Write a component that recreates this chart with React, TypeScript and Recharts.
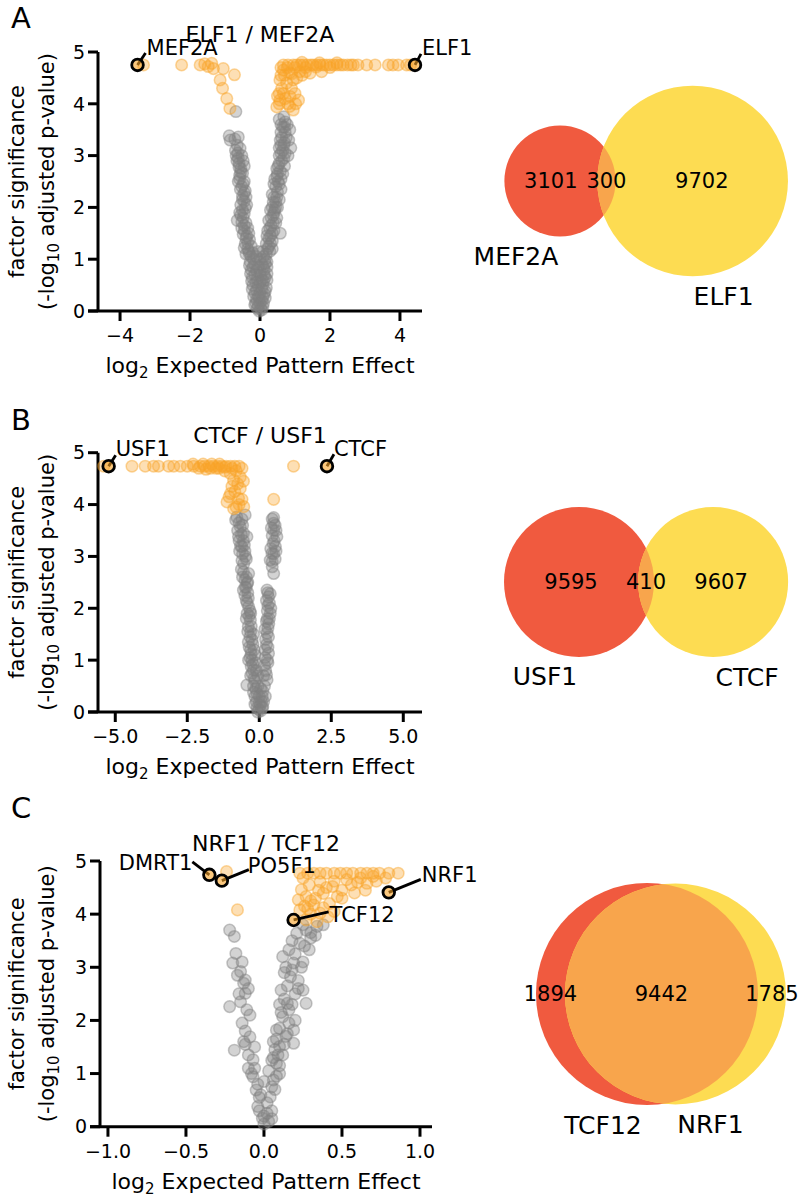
import React from "react";
import { ScatterChart, Scatter, XAxis, YAxis, ReferenceLine } from "recharts";

const FONT = "'DejaVu Sans', 'Liberation Sans', sans-serif";
const GREY = "#808080";
const ORANGE = "#F9A428";
const VENN_RED = "#F05A3F";
const VENN_YELLOW = "#FDDC52";
const VENN_BOTH = "#F8A54C";

// ---------- shared ----------
const yTicks = [0, 1, 2, 3, 4, 5];

// ---------- panel A : ELF1 / MEF2A ----------
const aTitle = "ELF1 / MEF2A";
const aTicks = [-4, -2, 0, 2, 4];
const aGrey: [number, number][] = [
    [-0.88, 3.38], [-0.62, 3.36], [-0.57, 3.14], [-0.68, 3.0], [-0.6, 2.85], [-0.55, 2.75],
    [-0.5, 2.66], [-0.58, 2.55], [-0.45, 2.5], [-0.52, 2.4], [-0.42, 2.32], [-0.5, 2.22],
    [-0.45, 2.12], [-0.38, 2.05], [-0.55, 1.85], [-0.48, 1.8], [-0.4, 1.7], [-0.35, 1.6],
    [-0.45, 1.55], [-0.38, 1.45], [-0.3, 1.38], [-0.42, 1.3], [-0.25, 1.25], [-0.35, 1.2],
    [-0.62, 2.95], [-0.48, 2.9], [-0.58, 2.62], [-0.4, 2.2], [-0.5, 1.95], [-0.32, 1.5],
    [-0.69, 3.85], [-0.85, 3.3], [-0.72, 3.32], [-0.65, 3.2], [-0.7, 3.1], [-0.63, 3.05],
    [-0.52, 3.0], [-0.66, 2.9], [-0.6, 2.78], [-0.45, 2.8], [-0.55, 2.68], [-0.62, 2.5],
    [-0.48, 2.45], [-0.56, 2.35], [-0.45, 2.28], [-0.5, 2.15], [-0.55, 2.05], [-0.42, 1.98],
    [-0.58, 1.9], [-0.45, 1.88], [-0.52, 1.72], [-0.45, 1.65], [-0.48, 1.48], [-0.4, 1.4],
    [-0.35, 1.32], [-0.45, 1.22], [-0.4, 1.1], [-0.52, 1.6], [-0.65, 1.75],
    [-0.3, 1.1], [-0.2, 1.12], [-0.1, 1.05], [0.0, 1.0], [0.1, 1.05], [0.18, 1.1],
    [-0.28, 0.95], [-0.15, 0.9], [0.05, 0.9], [0.15, 0.92], [-0.25, 0.8], [-0.1, 0.78],
    [0.0, 0.75], [0.12, 0.8], [0.2, 0.85], [-0.22, 0.65], [-0.08, 0.62], [0.05, 0.6],
    [0.15, 0.65], [-0.2, 0.5], [-0.05, 0.48], [0.08, 0.5], [0.18, 0.45], [-0.15, 0.35],
    [0.0, 0.35], [0.12, 0.33], [-0.1, 0.22], [0.05, 0.2], [0.1, 0.15], [-0.05, 0.1],
    [0.02, 0.05], [-0.02, 0.0], [-0.32, 1.15], [-0.25, 1.05], [-0.18, 1.0], [-0.05, 1.15],
    [0.08, 1.15], [0.15, 1.0], [-0.3, 0.88], [-0.2, 0.85], [-0.05, 0.85], [0.1, 0.85],
    [0.2, 0.95], [-0.27, 0.72], [-0.15, 0.7], [0.02, 0.68], [0.12, 0.7], [0.2, 0.72],
    [-0.24, 0.58], [-0.12, 0.55], [0.0, 0.55], [0.1, 0.58], [0.2, 0.6], [-0.22, 0.42],
    [-0.1, 0.4], [0.05, 0.42], [0.15, 0.38], [-0.18, 0.28], [-0.05, 0.28], [0.08, 0.27],
    [0.15, 0.25], [-0.12, 0.15], [0.0, 0.15], [0.08, 0.08], [-0.08, 0.05], [0.05, 0.02],
    [-0.02, 0.25], [-0.15, 0.12],
    [0.22, 1.2], [0.3, 1.3], [0.25, 1.4], [0.35, 1.5], [0.28, 1.6], [0.38, 1.7], [0.32, 1.8],
    [0.4, 1.9], [0.35, 2.0], [0.45, 2.1], [0.4, 2.2], [0.5, 2.3], [0.45, 2.4], [0.52, 2.5],
    [0.48, 2.6], [0.58, 2.7], [0.52, 2.8], [0.62, 2.9], [0.55, 3.0], [0.65, 3.1], [0.6, 3.2],
    [0.7, 3.25], [0.62, 3.35], [0.72, 3.45], [0.65, 3.55], [0.78, 3.6], [0.55, 3.7],
    [0.68, 3.75], [0.82, 3.3], [0.58, 1.5], [0.2, 1.45], [0.42, 1.95], [0.7, 2.8],
    [0.25, 1.25], [0.35, 1.35], [0.18, 1.3], [0.3, 1.45], [0.4, 1.55], [0.22, 1.55],
    [0.32, 1.65], [0.45, 1.7], [0.25, 1.75], [0.38, 1.85], [0.48, 1.8], [0.3, 1.95],
    [0.5, 2.0], [0.38, 2.1], [0.55, 2.15], [0.35, 2.25], [0.48, 2.2], [0.6, 2.35],
    [0.4, 2.45], [0.55, 2.45], [0.42, 2.55], [0.6, 2.55], [0.5, 2.65], [0.65, 2.65],
    [0.48, 2.75], [0.55, 2.85], [0.68, 2.95], [0.6, 3.05], [0.72, 3.05], [0.55, 3.15],
    [0.68, 3.2], [0.58, 3.3], [0.75, 3.35], [0.6, 3.45], [0.7, 3.55], [0.85, 3.5],
    [0.6, 3.6], [0.72, 3.65], [0.88, 3.15], [0.8, 3.0], [0.45, 2.0], [0.28, 1.15], [0.35, 1.2],
];
const aOrange: [number, number][] = [
    [-3.33, 4.75], [-2.24, 4.75], [-1.71, 4.75], [-1.58, 4.77], [-1.48, 4.72], [-1.38, 4.78],
    [-1.33, 4.68], [-1.05, 4.68], [-0.73, 4.56], [-1.14, 4.46], [-1.07, 4.3], [-0.95, 4.1],
    [-0.86, 3.91],
    [0.48, 3.94], [0.57, 4.07], [0.67, 4.2], [0.86, 4.14], [0.95, 3.88], [1.1, 4.07], [1.0, 4.2],
    [0.76, 4.4], [0.57, 4.46], [0.95, 4.46], [0.67, 4.65], [1.14, 4.62], [1.43, 4.59],
    [1.76, 4.62], [0.62, 4.3], [0.8, 4.0], [0.9, 4.3], [0.7, 4.55], [0.85, 4.6], [1.05, 4.5],
    [0.6, 4.7], [0.55, 4.2], [0.72, 4.1], [0.85, 3.95], [1.02, 4.0], [0.6, 4.55], [0.78, 4.7],
    [0.9, 4.58], [1.2, 4.55], [1.3, 4.62], [0.55, 4.0], [0.5, 4.15],
    [0.67, 4.75], [0.8, 4.75], [0.95, 4.75], [1.05, 4.75], [1.15, 4.75], [1.24, 4.75],
    [1.35, 4.75], [1.45, 4.75], [1.52, 4.75], [1.62, 4.75], [1.72, 4.75], [1.81, 4.75],
    [1.9, 4.75], [2.0, 4.75], [2.1, 4.75], [2.2, 4.75], [2.3, 4.75], [2.38, 4.75], [2.5, 4.75],
    [2.6, 4.75], [2.67, 4.75], [2.8, 4.75], [3.05, 4.75], [3.29, 4.75], [3.67, 4.75],
    [3.8, 4.75], [3.95, 4.75], [4.19, 4.75], [4.3, 4.75],
    [1.0, 4.7], [1.3, 4.7], [1.6, 4.71], [2.0, 4.7], [1.2, 4.8], [1.7, 4.79], [2.2, 4.79],
];
const aMarked = [
    { x: -3.5, y: 4.75, name: "MEF2A" },
    { x: 4.43, y: 4.75, name: "ELF1" },
];
const aVennNames = ["MEF2A", "ELF1"];
const aVennCounts = [3101, 300, 9702];

// ---------- panel B : CTCF / USF1 ----------
const bTitle = "CTCF / USF1";
const bTicks = [-5, -2.5, 0, 2.5, 5];
const bGrey: [number, number][] = [
    [-0.78, 3.76], [-0.49, 3.8], [-0.66, 3.57], [-0.55, 3.45], [-0.43, 3.38], [-0.6, 3.19],
    [-0.5, 3.1], [-0.54, 2.86], [-0.45, 2.95], [-0.62, 2.75], [-0.37, 2.67], [-0.5, 2.55],
    [-0.49, 2.41], [-0.4, 2.3], [-0.45, 2.15], [-0.37, 2.03], [-0.42, 1.9], [-0.31, 1.77],
    [-0.38, 1.65], [-0.3, 1.55], [-0.25, 1.39], [-0.35, 1.25], [-0.28, 1.12], [-0.37, 1.0],
    [-0.22, 0.92], [-0.2, 0.81], [-0.3, 0.7], [-0.43, 0.52], [-0.15, 0.6], [-0.12, 0.45],
    [-0.08, 0.36], [-0.1, 0.2], [0.03, 0.13], [-0.02, 0.05], [-0.58, 3.6], [-0.7, 3.3],
    [-0.25, 1.0], [-0.18, 1.2], [-0.3, 1.9], [-0.4, 2.5], [-0.15, 0.3],
    [-0.82, 3.7], [-0.7, 3.65], [-0.6, 3.72], [-0.75, 3.5], [-0.62, 3.42], [-0.72, 3.38],
    [-0.55, 3.3], [-0.65, 3.2], [-0.52, 3.22], [-0.58, 3.05], [-0.68, 3.1], [-0.48, 3.0],
    [-0.6, 2.92], [-0.55, 2.7], [-0.45, 2.6], [-0.58, 2.6], [-0.42, 2.48], [-0.55, 2.35],
    [-0.45, 2.4], [-0.38, 2.2], [-0.5, 2.25], [-0.42, 2.1], [-0.32, 1.95], [-0.45, 1.8],
    [-0.35, 1.85], [-0.28, 1.65], [-0.4, 1.55], [-0.32, 1.45], [-0.2, 1.5], [-0.38, 1.35],
    [-0.22, 1.3], [-0.3, 1.2], [-0.15, 1.1], [-0.32, 1.05], [-0.12, 0.95], [-0.28, 0.88],
    [-0.1, 0.8], [-0.25, 0.75], [-0.05, 0.7], [-0.18, 0.65], [-0.2, 0.5], [-0.05, 0.5],
    [0.05, 0.45], [-0.2, 0.38], [0.0, 0.3], [0.1, 0.3], [-0.15, 0.15], [0.0, 0.18],
    [0.08, 0.2], [0.12, 0.1], [-0.08, 0.08], [0.05, 0.02], [-0.05, 0.0],
    [0.21, 0.3], [0.18, 0.5], [0.27, 0.62], [0.22, 0.8], [0.3, 0.95], [0.32, 1.13],
    [0.25, 1.3], [0.27, 1.52], [0.33, 1.7], [0.38, 1.9], [0.3, 2.05], [0.32, 2.22],
    [0.27, 2.35], [0.5, 2.67], [0.45, 2.8], [0.38, 2.93], [0.5, 3.05], [0.44, 3.06],
    [0.56, 3.19], [0.52, 3.3], [0.61, 3.38], [0.5, 3.5], [0.5, 3.64], [0.45, 3.72],
    [0.15, 0.2], [0.1, 0.08], [0.2, 1.05], [0.28, 1.8],
    [0.12, 0.4], [0.15, 0.7], [0.25, 0.72], [0.18, 0.9], [0.28, 1.0], [0.2, 1.2], [0.3, 1.25],
    [0.22, 1.4], [0.32, 1.45], [0.2, 1.6], [0.3, 1.62], [0.25, 1.75], [0.35, 1.8], [0.28, 1.95],
    [0.4, 2.0], [0.25, 2.15], [0.35, 2.1], [0.3, 2.3], [0.38, 2.28], [0.45, 2.9], [0.55, 2.95],
    [0.4, 3.15], [0.58, 3.1], [0.48, 3.25], [0.45, 3.4], [0.58, 3.5], [0.55, 3.6], [0.42, 3.55],
    [0.5, 3.75],
];
const bOrange: [number, number][] = [
    [-5.4, 4.74], [-4.42, 4.74], [-3.96, 4.74], [-3.67, 4.74], [-3.5, 4.74], [-3.15, 4.74],
    [-2.97, 4.74], [-2.74, 4.74], [-2.28, 4.74], [-2.05, 4.74], [-1.9, 4.74], [-1.75, 4.74],
    [-1.6, 4.74], [-1.45, 4.74], [-1.3, 4.74], [-1.15, 4.74], [-1.0, 4.74], [-0.85, 4.74],
    [-0.7, 4.74], [1.19, 4.74], [-1.95, 4.78], [-1.65, 4.78], [-1.38, 4.78], [-2.1, 4.7],
    [-1.5, 4.7], [-1.2, 4.72], [-0.95, 4.7],
    [-1.01, 4.6], [-0.89, 4.47], [-0.66, 4.53], [-0.66, 4.31], [-1.0, 4.21], [-1.12, 4.05],
    [-0.72, 4.12], [-0.54, 3.96], [-0.89, 3.92], [-0.8, 4.65], [-0.6, 4.7], [0.5, 4.1],
    [-0.75, 4.4], [-0.85, 4.25], [-0.6, 4.1], [-0.95, 4.35], [-0.7, 4.0], [-0.8, 3.95],
    [-1.05, 4.15], [-0.55, 4.45], [-1.2, 4.65], [-1.4, 4.7], [-1.7, 4.7], [-2.3, 4.78],
    [-2.5, 4.74], [-1.85, 4.68],
];
const bMarked = [
    { x: -5.23, y: 4.74, name: "USF1" },
    { x: 2.35, y: 4.74, name: "CTCF" },
];
const bVennNames = ["USF1", "CTCF"];
const bVennCounts = [9595, 410, 9607];

// ---------- panel C : NRF1 / TCF12 ----------
const cTitle = "NRF1 / TCF12";
const cTicks = [-1, -0.5, 0, 0.5, 1];
const cGrey: [number, number][] = [
    [-0.22, 3.7], [-0.19, 3.58], [-0.18, 3.26], [-0.2, 3.08], [-0.15, 2.92], [-0.12, 2.76],
    [-0.13, 2.7], [-0.22, 2.26], [-0.12, 2.51], [-0.11, 2.2], [-0.14, 1.95], [-0.19, 1.44],
    [-0.09, 1.69], [-0.13, 1.6], [-0.07, 1.26], [-0.1, 1.1], [-0.07, 0.94], [-0.05, 0.69],
    [-0.04, 0.38], [-0.01, 0.16], [-0.16, 2.5], [-0.09, 2.1], [-0.12, 1.8], [-0.06, 1.5],
    [-0.08, 1.0], [-0.03, 0.55], [-0.04, 0.8], [-0.06, 1.1], [-0.1, 1.35], [-0.12, 1.55],
    [-0.15, 2.35], [-0.1, 2.6], [-0.17, 2.85], [-0.14, 3.1],
    [0.02, 0.25], [0.04, 0.56], [0.06, 0.88], [0.08, 1.19], [0.1, 1.51], [0.08, 1.82],
    [0.12, 2.07], [0.15, 2.32], [0.11, 2.57], [0.17, 2.82], [0.19, 3.08], [0.16, 3.33],
    [0.23, 3.45], [0.21, 3.64], [0.27, 3.7], [0.34, 3.77], [0.27, 2.32], [0.19, 1.57],
    [0.12, 3.2], [0.29, 3.33], [0.25, 2.57], [0.19, 1.82], [0.06, 1.3], [0.1, 1.0],
    [0.14, 1.7], [0.13, 2.9], [0.2, 2.0], [0.22, 2.6], [0.24, 3.0], [0.3, 3.55], [0.38, 3.8],
    [0.05, 0.3], [0.03, 0.1], [0.0, 0.05], [0.07, 0.7], [0.16, 2.2], [0.09, 1.35],
    [0.0, 0.2], [0.05, 0.15], [-0.03, 0.3], [0.02, 0.45], [-0.02, 0.6], [0.05, 0.75],
    [0.0, 0.85], [0.08, 0.95], [0.03, 1.05], [0.1, 1.15], [0.05, 1.25], [0.12, 1.35],
    [0.07, 1.45], [0.13, 1.55], [0.08, 1.65], [0.15, 1.75], [0.1, 1.85], [0.16, 1.95],
    [0.11, 2.15], [0.18, 2.3], [0.13, 2.4], [0.2, 2.5], [0.15, 2.65], [0.22, 2.75],
    [0.18, 2.95], [0.25, 3.1], [0.2, 3.25], [0.26, 3.4], [0.18, 3.5], [0.3, 3.65],
    [0.25, 3.8], [0.33, 3.6], [0.14, 3.0], [0.1, 2.3], [0.06, 1.6],
];
const cOrange: [number, number][] = [
    [-0.24, 4.8], [-0.17, 4.08],
    [0.23, 4.77], [0.28, 4.77], [0.32, 4.77], [0.36, 4.77], [0.4, 4.77], [0.45, 4.77],
    [0.49, 4.77], [0.53, 4.77], [0.57, 4.77], [0.62, 4.77], [0.66, 4.77], [0.7, 4.77],
    [0.74, 4.77], [0.8, 4.77], [0.86, 4.77],
    [0.25, 4.68], [0.29, 4.55], [0.36, 4.61], [0.44, 4.52], [0.53, 4.65], [0.62, 4.68],
    [0.47, 4.33], [0.24, 4.46], [0.22, 4.27], [0.27, 4.33], [0.32, 4.17], [0.23, 4.08],
    [0.36, 4.02], [0.41, 3.95], [0.34, 3.86], [0.27, 3.89], [0.7, 4.71], [0.38, 4.39],
    [0.3, 4.0], [0.5, 4.45], [0.56, 4.55], [0.42, 4.2], [0.33, 4.3], [0.26, 4.15],
    [0.6, 4.6], [0.66, 4.58], [0.72, 4.62], [0.78, 4.68], [0.45, 4.62], [0.4, 4.5],
    [0.35, 4.45], [0.3, 4.25], [0.38, 4.12], [0.45, 4.05], [0.28, 4.1], [0.5, 4.3],
    [0.58, 4.4], [0.65, 4.45],
];
const cMarked = [
    { x: -0.35, y: 4.74, name: "DMRT1" },
    { x: -0.27, y: 4.63, name: "PO5F1" },
    { x: 0.8, y: 4.41, name: "NRF1" },
    { x: 0.19, y: 3.89, name: "TCF12" },
];
const cVennNames = ["TCF12", "NRF1"];
const cVennCounts = [1894, 9442, 1785];

// callout placement (pixel offsets from the marked point)
const callouts: Record<string, { lx: number; ly: number; tx: number; ty: number; anchor: string }> = {
    MEF2A: { lx: 8, ly: -12, tx: 9, ty: -10, anchor: "start" },
    ELF1: { lx: 6, ly: -11, tx: 7, ty: -10, anchor: "start" },
    USF1: { lx: 7, ly: -11, tx: 7, ty: -10, anchor: "start" },
    CTCF: { lx: 7, ly: -12, tx: 7, ty: -10, anchor: "start" },
    DMRT1: { lx: -17, ly: -13, tx: -17, ty: -5, anchor: "end" },
    PO5F1: { lx: 27, ly: -11, tx: 26, ty: -8, anchor: "start" },
    NRF1: { lx: 32, ly: -13, tx: 33, ty: -10, anchor: "start" },
    TCF12: { lx: 35, ly: -8, tx: 36, ty: 2, anchor: "start" },
};

const minus = (s: string) => s.replace("-", "\u2212");
const fmtInt = (v: number) => minus(String(v));
const fmtOne = (v: number) => minus(v.toFixed(1));

const toPoints = (arr: [number, number][]) => arr.map(([x, y]) => ({ x, y }));

const dot = (color: string) => (p: any) => (
    <circle
        cx={p.cx}
        cy={p.cy}
        r={5.8}
        fill={color}
        fillOpacity={0.35}
        stroke={color}
        strokeOpacity={0.45}
        strokeWidth={1.5}
    />
);

const markedDot = (p: any) => {
    const c = callouts[p.payload.name];
    return (
        <g>
            <line
                x1={p.cx}
                y1={p.cy}
                x2={p.cx + c.lx}
                y2={p.cy + c.ly}
                stroke="#000"
                strokeWidth={2.8}
            />
            <circle cx={p.cx} cy={p.cy} r={5.8} fill={ORANGE} fillOpacity={0.6} stroke="#000" strokeWidth={2.8} />
            <text
                x={p.cx + c.tx}
                y={p.cy + c.ty}
                textAnchor={c.anchor as any}
                fontSize={21}
                fontFamily={FONT}
                fill="#000"
            >
                {p.payload.name}
            </text>
        </g>
    );
};

function Volcano({
    chartTop,
    letter,
    letterY,
    title,
    grey,
    orange,
    marked,
    domain,
    ticks,
    fmt,
    plot,
}: {
    chartTop: number;
    letter: string;
    letterY: number;
    title: string;
    grey: [number, number][];
    orange: [number, number][];
    marked: { x: number; y: number; name: string }[];
    domain: [number, number];
    ticks: number[];
    fmt: (v: number) => string;
    plot: { left: number; right: number; top: number; bottom: number };
}) {
    const W = 500;
    const H = 410;
    const yAxisW = 60;
    const xAxisH = 70;
    // plot box is given in page pixels; convert to chart pixels
    const pTop = plot.top - chartTop;
    const pBottom = plot.bottom - chartTop;
    const margin = {
        top: pTop,
        left: plot.left - yAxisW,
        right: W - plot.right,
        bottom: H - pBottom - xAxisH,
    };
    const ppu = (plot.right - plot.left) / (domain[1] - domain[0]);
    const mid = (pTop + pBottom) / 2;
    const cx = (plot.left + plot.right) / 2;

    const yLabel = () => (
        <g fontFamily={FONT} fill="#000">
            <text x={11} y={letterY - chartTop} fontSize={29}>
                {letter}
            </text>
            <text x={cx} y={pTop - 10} fontSize={22} textAnchor="middle">
                {title}
            </text>
            <text x={24} y={mid} fontSize={21} textAnchor="middle" transform={`rotate(-90 24 ${mid})`}>
                factor significance
            </text>
            <text x={54} y={mid} fontSize={21} textAnchor="middle" transform={`rotate(-90 54 ${mid})`}>
                (-log
                <tspan dy={5} fontSize={15}>
                    10
                </tspan>
                <tspan dy={-5}> adjusted p-value)</tspan>
            </text>
        </g>
    );

    const xLabel = () => (
        <text x={cx} y={pBottom + 62} fontSize={22} fontFamily={FONT} fill="#000" textAnchor="middle">
            log
            <tspan dy={5} fontSize={15}>
                2
            </tspan>
            <tspan dy={-5}> Expected Pattern Effect</tspan>
        </text>
    );

    const axisText = { fill: "#000", fontSize: 19, fontFamily: FONT };
    const axisStroke = { stroke: "#000", strokeWidth: 3 };

    return (
        <div style={{ position: "absolute", left: 0, top: chartTop, width: W, height: H }}>
            <ScatterChart width={W} height={H} margin={margin}>
                <XAxis
                    type="number"
                    dataKey="x"
                    domain={domain}
                    ticks={ticks}
                    interval={0}
                    tickFormatter={fmt}
                    height={xAxisH}
                    axisLine={false}
                    tickLine={axisStroke}
                    tickSize={10}
                    tickMargin={8}
                    tick={axisText}
                    label={xLabel}
                />
                <YAxis
                    type="number"
                    dataKey="y"
                    domain={[0, 5]}
                    ticks={yTicks}
                    interval={0}
                    width={yAxisW}
                    axisLine={axisStroke}
                    tickLine={axisStroke}
                    tickSize={10}
                    tickMargin={3}
                    tick={axisText}
                    label={yLabel}
                />
                <ReferenceLine
                    segment={[
                        { x: domain[0] - 10 / ppu, y: 0 },
                        { x: domain[1], y: 0 },
                    ]}
                    ifOverflow="visible"
                    stroke="#000"
                    strokeWidth={3}
                />
                <Scatter data={toPoints(grey)} shape={dot(GREY)} isAnimationActive={false} />
                <Scatter data={toPoints(orange)} shape={dot(ORANGE)} isAnimationActive={false} />
                <Scatter data={marked} shape={markedDot} isAnimationActive={false} />
            </ScatterChart>
        </div>
    );
}

// area of the lens between two circles whose centres are d apart
function lensArea(r1: number, r2: number, d: number) {
    if (d >= r1 + r2) return 0;
    if (d <= Math.abs(r1 - r2)) return Math.PI * Math.min(r1, r2) ** 2;
    const a1 = Math.acos((d * d + r1 * r1 - r2 * r2) / (2 * d * r1));
    const a2 = Math.acos((d * d + r2 * r2 - r1 * r1) / (2 * d * r2));
    const k = Math.sqrt((-d + r1 + r2) * (d + r1 - r2) * (d - r1 + r2) * (d + r1 + r2));
    return r1 * r1 * a1 + r2 * r2 * a2 - 0.5 * k;
}

function centreDistance(r1: number, r2: number, overlap: number) {
    let lo = Math.abs(r1 - r2);
    let hi = r1 + r2;
    for (let i = 0; i < 80; i++) {
        const m = (lo + hi) / 2;
        if (lensArea(r1, r2, m) > overlap) lo = m;
        else hi = m;
    }
    return (lo + hi) / 2;
}

function Venn({
    id,
    top,
    names,
    counts,
    anchor,
    nameDx,
}: {
    id: string;
    top: number;
    names: string[];
    counts: number[];
    anchor: { cx: number; cy: number; s: number };
    nameDx: number[];
}) {
    const left = 460;
    const W = 340;
    const H = 380;
    const [onlyA, both, onlyB] = counts;
    const rA = Math.sqrt((onlyA + both) / Math.PI);
    const rB = Math.sqrt((onlyB + both) / Math.PI);
    const d = centreDistance(rA, rB, both);
    const s = anchor.s;
    const xDomain: [number, number] = [(left - anchor.cx) / s, (left + W - anchor.cx) / s];
    const yDomain: [number, number] = [-(top + H - anchor.cy) / s, (anchor.cy - top) / s];

    const circles = [
        { x: 0, y: 0, r: rA, color: VENN_RED, name: names[0], dx: nameDx[0] },
        { x: d, y: 0, r: rB, color: VENN_YELLOW, name: names[1], dx: nameDx[1] },
    ];
    const lens = [{ x: 0, y: 0, r: rA, other: rB, gap: d }];
    const regionLabels = [
        { x: (-rA + (d - rB)) / 2, y: 0, text: String(onlyA) },
        { x: (d - rB + rA) / 2, y: 0, text: String(both) },
        { x: (rA + d + rB) / 2, y: 0, text: String(onlyB) },
    ];

    const circleShape = (p: any) => (
        <circle cx={p.cx} cy={p.cy} r={p.payload.r * s} fill={p.payload.color} />
    );
    const lensShape = (p: any) => (
        <g>
            <defs>
                <clipPath id={`${id}-clip`}>
                    <circle cx={p.cx + p.payload.gap * s} cy={p.cy} r={p.payload.other * s} />
                </clipPath>
            </defs>
            <circle cx={p.cx} cy={p.cy} r={p.payload.r * s} fill={VENN_BOTH} clipPath={`url(#${id}-clip)`} />
        </g>
    );
    const nameShape = (p: any) => (
        <text
            x={p.cx + p.payload.dx}
            y={p.cy + p.payload.r * s + 20}
            fontSize={25}
            fontFamily={FONT}
            fill="#000"
            textAnchor="middle"
            dominantBaseline="central"
        >
            {p.payload.name}
        </text>
    );
    const countShape = (p: any) => (
        <text
            x={p.cx}
            y={p.cy}
            fontSize={21}
            fontFamily={FONT}
            fill="#000"
            textAnchor="middle"
            dominantBaseline="central"
        >
            {p.payload.text}
        </text>
    );

    return (
        <div style={{ position: "absolute", left, top, width: W, height: H }}>
            <ScatterChart width={W} height={H} margin={{ top: 0, right: 0, bottom: 0, left: 0 }}>
                <XAxis type="number" dataKey="x" domain={xDomain} hide allowDataOverflow />
                <YAxis type="number" dataKey="y" domain={yDomain} hide allowDataOverflow />
                <Scatter data={circles} shape={circleShape} isAnimationActive={false} />
                <Scatter data={lens} shape={lensShape} isAnimationActive={false} />
                <Scatter data={circles} shape={nameShape} isAnimationActive={false} />
                <Scatter data={regionLabels} shape={countShape} isAnimationActive={false} />
            </ScatterChart>
        </div>
    );
}

export default function App() {
    return (
        <div
            style={{
                position: "absolute",
                left: 0,
                top: 0,
                width: 800,
                height: 1200,
                background: "#fff",
                fontFamily: FONT,
                overflow: "hidden",
            }}
        >
            <Volcano
                chartTop={0}
                letter="A"
                letterY={28}
                title={aTitle}
                grey={aGrey}
                orange={aOrange}
                marked={aMarked}
                domain={[-4.63, 4.63]}
                ticks={aTicks}
                fmt={fmtInt}
                plot={{ left: 98, right: 422, top: 52, bottom: 311 }}
            />
            <Volcano
                chartTop={390}
                letter="B"
                letterY={430}
                title={bTitle}
                grey={bGrey}
                orange={bOrange}
                marked={bMarked}
                domain={[-5.6, 5.65]}
                ticks={bTicks}
                fmt={fmtOne}
                plot={{ left: 98, right: 422, top: 452.7, bottom: 712 }}
            />
            <Volcano
                chartTop={790}
                letter="C"
                letterY={818}
                title={cTitle}
                grey={cGrey}
                orange={cOrange}
                marked={cMarked}
                domain={[-1.051, 1.077]}
                ticks={cTicks}
                fmt={fmtOne}
                plot={{ left: 100, right: 432, top: 861, bottom: 1126.7 }}
            />
            <Venn
                id="vennA"
                top={0}
                names={aVennNames}
                counts={aVennCounts}
                anchor={{ cx: 560, cy: 181, s: 1.69 }}
                nameDx={[-44, 31]}
            />
            <Venn
                id="vennB"
                top={400}
                names={bVennNames}
                counts={bVennCounts}
                anchor={{ cx: 579, cy: 582, s: 1.329 }}
                nameDx={[-34, 34]}
            />
            <Venn
                id="vennC"
                top={800}
                names={cVennNames}
                counts={cVennCounts}
                anchor={{ cx: 647, cy: 994, s: 1.848 }}
                nameDx={[-44, 35]}
            />
        </div>
    );
}
